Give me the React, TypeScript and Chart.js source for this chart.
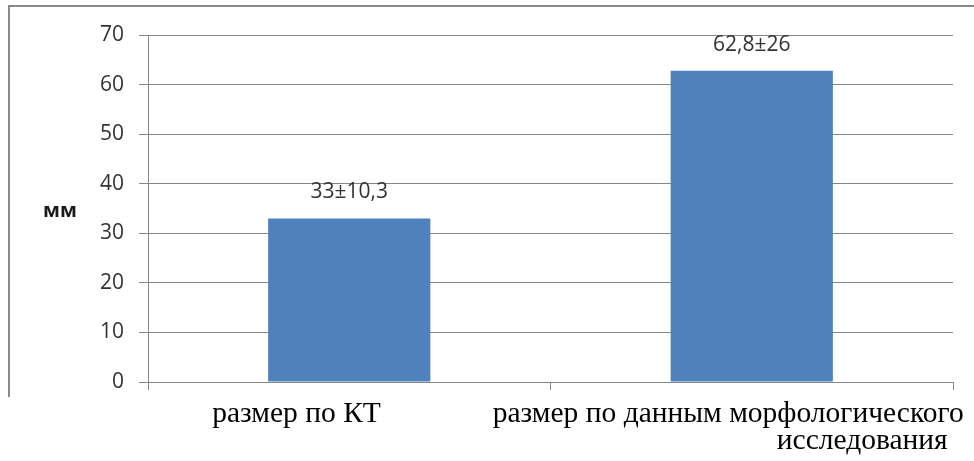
import React, { useEffect, useRef } from "react";
import { Chart, registerables } from "chart.js";

Chart.register(...registerables);

// Category captions (each entry is the list of lines of one caption)
const categories: string[][] = [
  ["размер по КТ"],
  ["размер по данным морфологического", "исследования"],
];
// Mean sizes, mm
const values: number[] = [33, 62.8];
// Value labels printed above the bars (mean ± SD)
const valueLabels: string[] = ["33±10,3", "62,8±26"];
// Y axis range and step
const yMin = 0;
const yMax = 70;
const yStep = 10;
const unitLabel = "мм";

const GRID = "#878787";
const BAR = "#4f81bd";
const SANS = "'Open Sans', 'Liberation Sans', sans-serif";
const SERIF = "'Liberation Serif', 'Times New Roman', serif";

// Frame, unit label, value labels and category captions
const decorations = {
  id: "decorations",
  beforeDraw(chart: Chart) {
    const ctx = chart.ctx;
    ctx.save();
    ctx.fillStyle = "#ffffff";
    ctx.fillRect(0, 0, chart.width, chart.height);
    ctx.strokeStyle = "#8a8a8a";
    ctx.lineWidth = 2;
    ctx.beginPath();
    ctx.moveTo(9, 397);
    ctx.lineTo(9, 6);
    ctx.lineTo(chart.width, 6);
    ctx.stroke();
    ctx.restore();
  },
  afterDraw(chart: Chart) {
    const ctx = chart.ctx;
    const meta = chart.getDatasetMeta(0);
    const xScale = chart.scales.x;
    ctx.save();

    // unit label to the left of the y axis
    ctx.fillStyle = "#1a1a1a";
    ctx.font = `bold 20px ${SANS}`;
    ctx.textAlign = "center";
    ctx.textBaseline = "middle";
    ctx.fillText(unitLabel, 60, 211);

    // value labels above the bars
    ctx.fillStyle = "#333333";
    ctx.font = `21px ${SANS}`;
    meta.data.forEach((bar: any, i: number) => {
      ctx.fillText(valueLabels[i], bar.x, bar.y - 26);
    });

    // category captions below the axis
    ctx.fillStyle = "#000000";
    ctx.font = `29.5px ${SERIF}`;
    ctx.textBaseline = "alphabetic";
    ctx.textAlign = "left";
    const lineOffsets = [
      [-137],
      [-259, 25],
    ];
    categories.forEach((lines, i) => {
      const cx = xScale.getPixelForValue(i);
      lines.forEach((line, j) => {
        ctx.fillText(line, cx + lineOffsets[i][j], 422 + j * 27);
      });
    });
    ctx.restore();
  },
};

export default function App() {
  const canvasRef = useRef<HTMLCanvasElement | null>(null);

  useEffect(() => {
    const canvas = canvasRef.current;
    if (!canvas) return;
    const chart = new Chart(canvas, {
      type: "bar",
      data: {
        labels: categories.map((c) => c.join(" ")),
        datasets: [
          {
            data: values,
            backgroundColor: BAR,
            borderWidth: 0,
            categoryPercentage: 1,
            barPercentage: 0.403,
          },
        ],
      },
      options: {
        responsive: false,
        animation: false,
        devicePixelRatio: 1,
        layout: { padding: { top: 35, right: 21, left: 0, bottom: 0 } },
        plugins: {
          legend: { display: false },
          tooltip: { enabled: false },
        },
        scales: {
          x: {
            grid: {
              display: true,
              drawOnChartArea: false,
              drawTicks: true,
              tickLength: 8,
              color: GRID,
              offset: true,
            },
            border: { display: true, color: GRID },
            ticks: { display: false },
            afterFit: (s: any) => {
              s.height = 79;
            },
          },
          y: {
            min: yMin,
            max: yMax,
            ticks: {
              stepSize: yStep,
              font: { family: SANS, size: 21 },
              color: "#333333",
              padding: 15,
            },
            grid: { color: GRID, tickLength: 9 },
            border: { display: true, color: GRID },
            afterFit: (s: any) => {
              s.width = 148;
            },
          },
        },
      },
      plugins: [decorations],
    });
    return () => chart.destroy();
  }, []);

  return (
    <div
      style={{
        position: "absolute",
        left: 0,
        top: 0,
        width: 974,
        height: 461,
        background: "#ffffff",
      }}
    >
      <canvas
        ref={canvasRef}
        width={974}
        height={461}
        style={{ display: "block", width: 974, height: 461 }}
      />
    </div>
  );
}
